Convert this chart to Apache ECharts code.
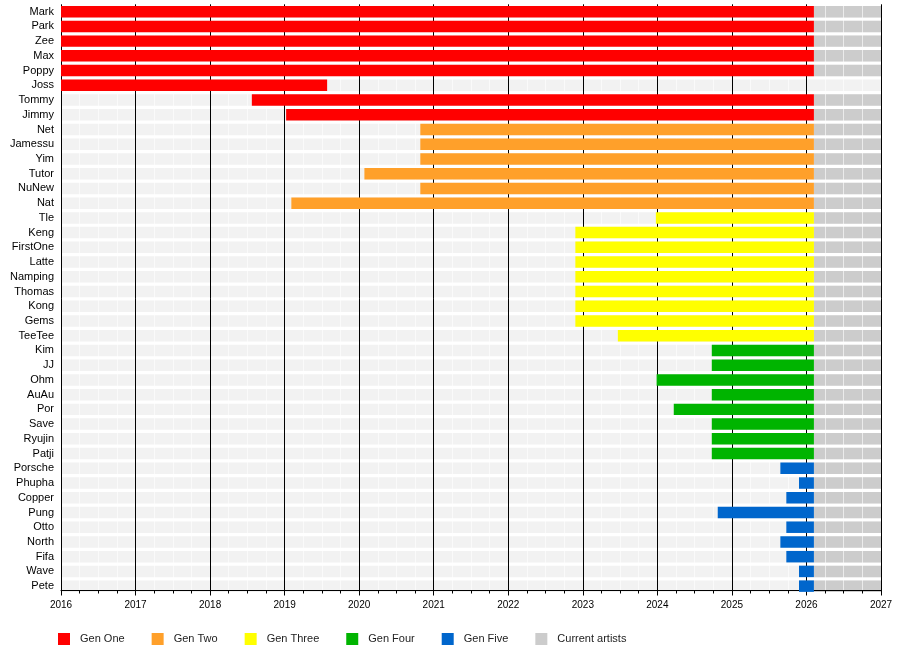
<!DOCTYPE html>
<html>
<head>
<meta charset="utf-8">
<title>Members timeline</title>
<script src="https://cdn.jsdelivr.net/npm/echarts@6/dist/echarts.min.js"></script>
<style>
  html, body { margin: 0; padding: 0; background: #fff; }
  #chart { width: 900px; height: 650px; }
</style>
</head>
<body>
<div id="chart"></div>
<script>
const members = [
  "Mark", "Park", "Zee", "Max", "Poppy", "Joss", "Tommy", "Jimmy",
  "Net", "Jamessu", "Yim", "Tutor", "NuNew", "Nat",
  "Tle", "Keng", "FirstOne", "Latte", "Namping", "Thomas", "Kong", "Gems", "TeeTee",
  "Kim", "JJ", "Ohm", "AuAu", "Por", "Save", "Ryujin", "Patji",
  "Porsche", "Phupha", "Copper", "Pung", "Otto", "North", "Fifa", "Wave", "Pete"
];
const startDates = [
  2016, 2016, 2016, 2016, 2016, 2016, 2018.56, 2019.02,
  2020.82, 2020.82, 2020.82, 2020.07, 2020.82, 2019.09,
  2023.98, 2022.9, 2022.9, 2022.9, 2022.9, 2022.9, 2022.9, 2022.9, 2023.47,
  2024.73, 2024.73, 2023.99, 2024.73, 2024.22, 2024.73, 2024.73, 2024.73,
  2025.65, 2025.9, 2025.73, 2024.81, 2025.73, 2025.65, 2025.73, 2025.9, 2025.9
];
const endDates = [
  2026.1, 2026.1, 2026.1, 2026.1, 2026.1, 2019.57, 2026.1, 2026.1,
  2026.1, 2026.1, 2026.1, 2026.1, 2026.1, 2026.1,
  2026.1, 2026.1, 2026.1, 2026.1, 2026.1, 2026.1, 2026.1, 2026.1, 2026.1,
  2026.1, 2026.1, 2026.1, 2026.1, 2026.1, 2026.1, 2026.1, 2026.1,
  2026.1, 2026.1, 2026.1, 2026.1, 2026.1, 2026.1, 2026.1, 2026.1, 2026.1
];
const generation = [
  0, 0, 0, 0, 0, 0, 0, 0,
  1, 1, 1, 1, 1, 1,
  2, 2, 2, 2, 2, 2, 2, 2, 2,
  3, 3, 3, 3, 3, 3, 3, 3,
  4, 4, 4, 4, 4, 4, 4, 4, 4
];
const formerMembers = ["Joss"];
const genNames = ["Gen One", "Gen Two", "Gen Three", "Gen Four", "Gen Five"];
const genColors = ["#ff0000", "#ffa02a", "#ffff00", "#00b400", "#0066cc"];
const currentLabel = "Current artists";
const currentColor = "#cccccc";
const currentStart = 2026.1;
const yearMin = 2016;
const yearMax = 2027;

const FONT = "'Liberation Sans', Arial, sans-serif";
const BAR_RATIO = 0.78;

function renderSpan(params, api) {
  const start = api.coord([api.value(1), api.value(0)]);
  const end = api.coord([api.value(2), api.value(0)]);
  const h = api.size([0, 1])[1] * BAR_RATIO;
  return {
    type: "rect",
    shape: { x: start[0], y: start[1] - h / 2, width: end[0] - start[0], height: h },
    style: { fill: api.visual("color") }
  };
}

function spanSeries(name, color, data, z) {
  return {
    name,
    type: "custom",
    renderItem: renderSpan,
    encode: { x: [1, 2], y: 0 },
    itemStyle: { color },
    silent: true,
    z,
    data
  };
}

const bandData = members.map((m) => [m, yearMin, yearMax]);
const currentData = members
  .filter((m) => !formerMembers.includes(m))
  .map((m) => [m, currentStart, yearMax]);

const genSeries = genNames.map((g, gi) =>
  spanSeries(
    g,
    genColors[gi],
    members
      .map((m, i) => ({ m, i }))
      .filter(({ i }) => generation[i] === gi)
      .map(({ m, i }) => [m, startDates[i], endDates[i]]),
    3
  )
);

const chart = echarts.init(document.getElementById("chart"));
chart.setOption({
  backgroundColor: "#ffffff",
  animation: false,
  grid: { left: 61, right: 19, top: 4.3, bottom: 56.5 },
  legend: {
    left: 53,
    top: 628,
    icon: "rect",
    itemWidth: 12,
    itemHeight: 12,
    itemGap: 27,
    data: genNames.concat([currentLabel]),
    textStyle: { fontFamily: FONT, fontSize: 11, color: "#222", padding: [0, 0, 0, 5] },
    selectedMode: false
  },
  xAxis: {
    type: "value",
    min: yearMin,
    max: yearMax,
    interval: 1,
    offset: -3,
    z: 1,
    axisLine: { show: true, lineStyle: { color: "#000", width: 1 } },
    axisTick: { show: true, length: 5, lineStyle: { color: "#000" } },
    minorTick: { show: true, splitNumber: 4, length: 3, lineStyle: { color: "#000" } },
    splitLine: { show: true, lineStyle: { color: "#000", width: 1 } },
    minorSplitLine: { show: true, lineStyle: { color: "rgba(255,255,255,0.6)", width: 1 } },
    axisLabel: {
      fontFamily: FONT,
      fontSize: 10,
      color: "#000",
      margin: 10,
      formatter: (v) => String(v)
    }
  },
  yAxis: {
    type: "category",
    data: members,
    inverse: true,
    axisLine: { show: false },
    axisTick: { show: false },
    splitLine: { show: false },
    axisLabel: { fontFamily: FONT, fontSize: 11, color: "#000", margin: 7, interval: 0 }
  },
  series: [
    spanSeries("band", "#f2f2f2", bandData, 0),
    spanSeries(currentLabel, currentColor, currentData, 0)
  ].concat(genSeries)
});
</script>
</body>
</html>
